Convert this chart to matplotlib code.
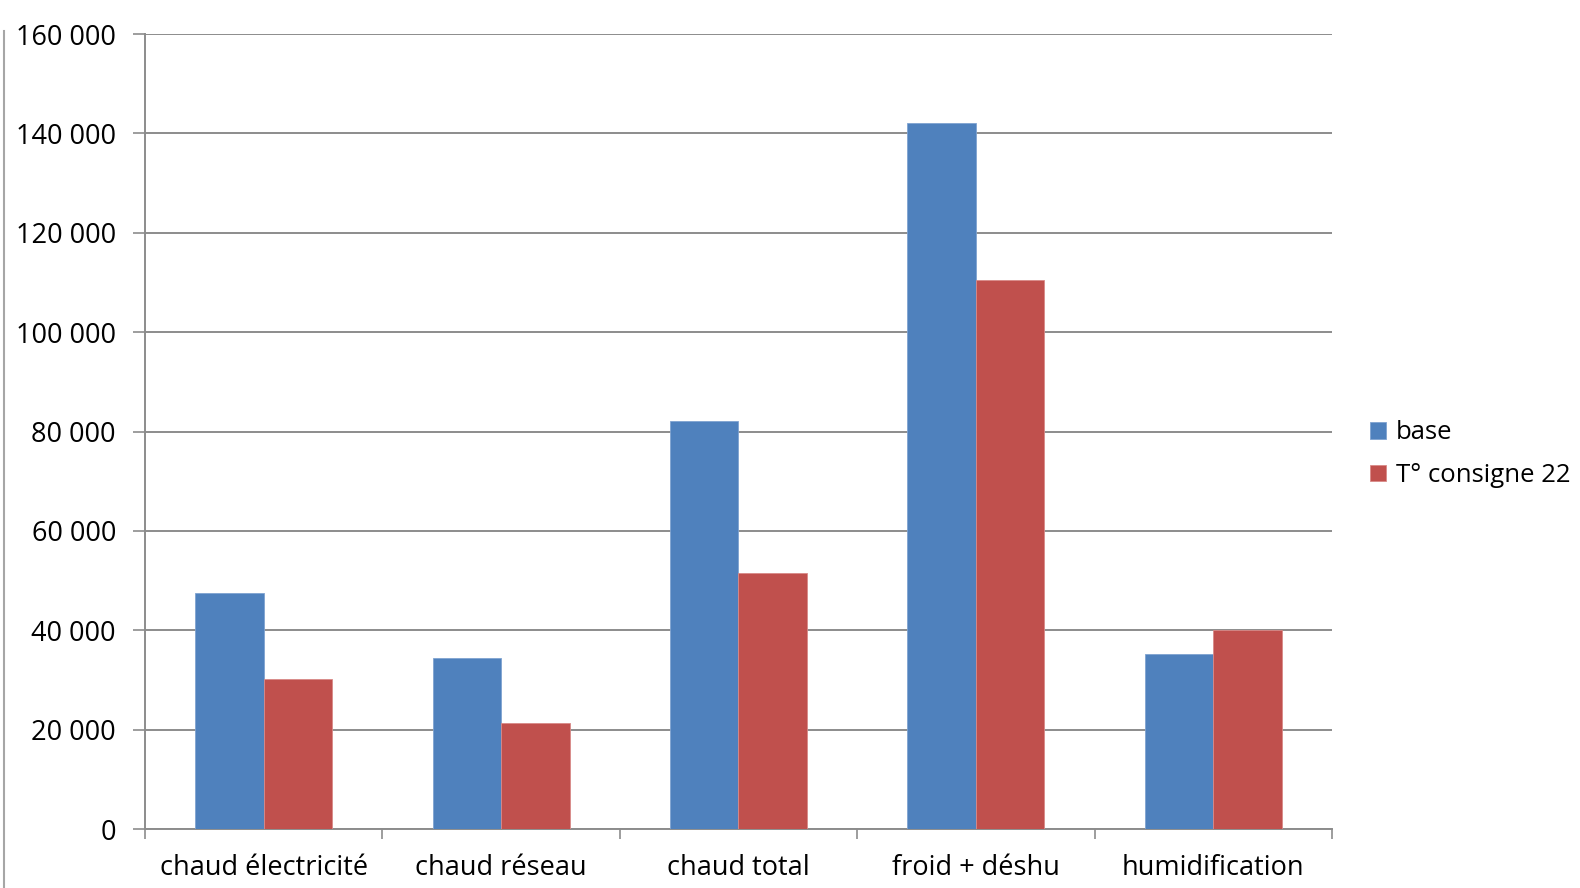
import matplotlib.pyplot as plt
from matplotlib.lines import Line2D
from matplotlib.ticker import FuncFormatter, FixedLocator
import numpy as np

categories = ["chaud électricité", "chaud réseau", "chaud total", "froid + déshu", "humidification"]
base = [47600, 34400, 82200, 142000, 35200]
consigne_22 = [30200, 21300, 51500, 110400, 40100]
series_names = ["base", "T° consigne 22"]

plt.rcParams['font.family'] = ['Open Sans', 'DejaVu Sans']

fig = plt.figure(figsize=(15.8, 8.88), dpi=100)
ax = fig.add_axes([0.0918, 0.0664, 0.7512, 0.8953])

x = np.arange(len(categories))
w = 0.289
ax.bar(x - w / 2, base, w, color='#4F81BD', edgecolor='#7fa3d1', linewidth=0.6,
       label=series_names[0], zorder=3)
ax.bar(x + w / 2, consigne_22, w, color='#C0504D', edgecolor='#d98a88', linewidth=0.6,
       label=series_names[1], zorder=3)

ax.set_xlim(-0.5, len(categories) - 0.5)
ax.set_ylim(0, 160000)
ax.set_yticks(np.arange(0, 160001, 20000))
ax.yaxis.set_major_formatter(FuncFormatter(lambda v, p: f"{int(v):,}".replace(",", " ")))
ax.yaxis.grid(True, color='#8c8c8c', linewidth=1.4, zorder=0)

# ticks between categories, labels centred
ax.xaxis.set_major_locator(FixedLocator(np.arange(-0.5, len(categories), 1.0)))
ax.xaxis.set_minor_locator(FixedLocator(x))
ax.set_xticklabels([])
ax.set_xticklabels(categories, minor=True)
ax.tick_params(axis='x', which='major', length=7, width=1.2, color='#8c8c8c', direction='out')
ax.tick_params(axis='x', which='minor', length=0, labelsize=19.5, pad=18)
ax.tick_params(axis='y', length=9, width=1.2, color='#8c8c8c', labelsize=19.5, pad=12)

for s in ['top', 'right']:
    ax.spines[s].set_visible(False)
for s in ['left', 'bottom']:
    ax.spines[s].set_color('#8c8c8c')
    ax.spines[s].set_linewidth(1.4)

fig.add_artist(Line2D([0.0025, 0.0025], [0.0, 0.965], transform=fig.transFigure,
                      color='#a6a6a6', linewidth=1.5))

ax.legend(loc='center left', bbox_to_anchor=(0.8605, 0.4885), bbox_transform=fig.transFigure,
          frameon=False, fontsize=18.5, handlelength=0.62, handleheight=0.62,
          handletextpad=0.4, labelspacing=0.68, borderaxespad=0)

fig.savefig('out.png', dpi=100)
